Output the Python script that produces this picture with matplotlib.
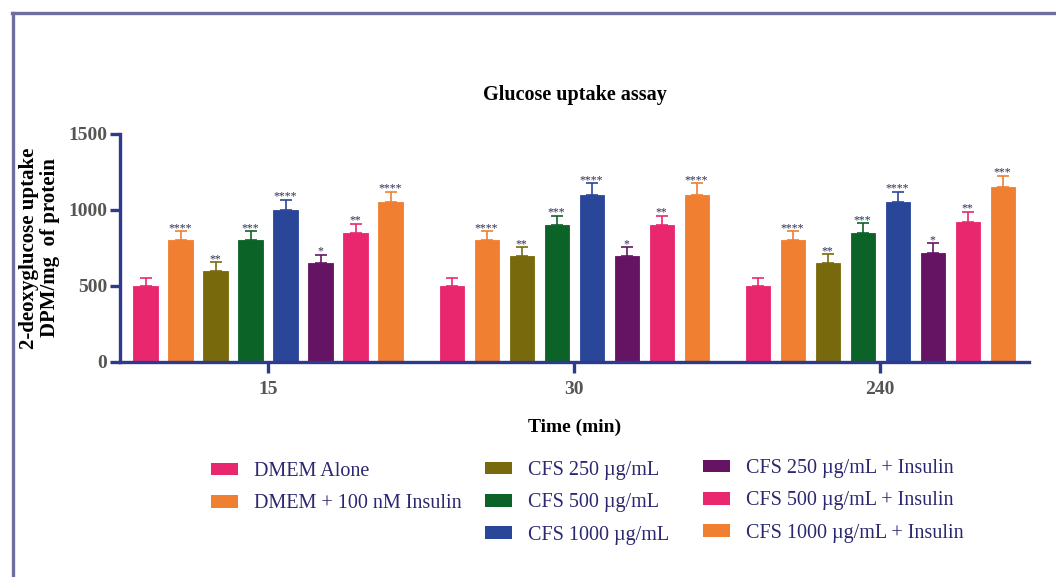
import matplotlib
matplotlib.use('Agg')
import matplotlib.pyplot as plt
import numpy as np
from matplotlib.lines import Line2D
from matplotlib.patches import Patch

plt.rcParams['font.family'] = ['Liberation Serif', 'DejaVu Serif']

# ---------------- data ----------------
times = ['15', '30', '240']
treatments = ['DMEM Alone', 'DMEM + 100 nM Insulin', 'CFS 250 µg/mL', 'CFS 500 µg/mL',
              'CFS 1000 µg/mL', 'CFS 250 µg/mL + Insulin', 'CFS 500 µg/mL + Insulin',
              'CFS 1000 µg/mL + Insulin']
colors = ['#E9276F', '#F07F31', '#786A0C', '#0C6328', '#2A4699', '#651464', '#E9276F', '#F07F31']

means_15 = [500, 800, 600, 800, 1000, 650, 850, 1050]
means_30 = [500, 800, 700, 900, 1100, 700, 900, 1100]
means_240 = [500, 800, 650, 850, 1050, 720, 920, 1150]
sd_15 = [50, 60, 55, 60, 65, 55, 60, 70]
sd_30 = [50, 60, 55, 60, 75, 55, 60, 75]
sd_240 = [50, 60, 58, 62, 70, 60, 68, 75]
stars_15 = ['', '****', '**', '***', '****', '*', '**', '****']
stars_30 = ['', '****', '**', '***', '****', '*', '**', '****']
stars_240 = ['', '****', '**', '***', '****', '*', '**', '***']

means = np.array([means_15, means_30, means_240])
sds = np.array([sd_15, sd_30, sd_240])
stars = [stars_15, stars_30, stars_240]

# ---------------- figure ----------------
W, H = 1056, 577
fig = plt.figure(figsize=(W / 100, H / 100), dpi=100)
ax = fig.add_axes([120 / W, 1 - 362 / H, (1029 - 120) / W, (362 - 134) / H])

navy = '#2E3A8C'
group_step = 8.743
bar_w = 0.686
n = len(treatments)
centers = np.arange(len(times)) * group_step

for i in range(n):
    x = centers + (i - (n - 1) / 2)
    ax.bar(x, means[:, i], width=bar_w, color=colors[i], edgecolor=colors[i],
           linewidth=0.6, zorder=2)
    ax.errorbar(x, means[:, i], yerr=[np.zeros(len(times)), sds[:, i]], fmt='none',
                ecolor=colors[i], elinewidth=1.4, capsize=4.5, capthick=1.4,
                alpha=0.85, zorder=2)
    for g in range(len(times)):
        s = stars[g][i]
        if s:
            ax.text(x[g], means[g, i] + sds[g, i] + 2, s, ha='center', va='baseline',
                    fontsize=8.5, color='#2D2D50', zorder=3)

ax.set_ylim(0, 1500)
ax.set_xlim((120 - 268) / 35, (1029 - 268) / 35)
ax.set_yticks([0, 500, 1000, 1500])
ax.set_xticks(centers)
ax.set_xticklabels(times)
for sp in ['top', 'right']:
    ax.spines[sp].set_visible(False)
for sp in ['left', 'bottom']:
    ax.spines[sp].set_color(navy)
    ax.spines[sp].set_linewidth(2.4)
    ax.spines[sp].set_zorder(4)
ax.tick_params(axis='y', length=7, width=2.4, color=navy, pad=2,
               labelsize=14, labelcolor='#555555')
ax.tick_params(axis='x', length=8, width=2.4, color=navy, pad=6,
               labelsize=14, labelcolor='#555555')
for lab in ax.get_xticklabels() + ax.get_yticklabels():
    lab.set_fontweight('bold')

# titles / labels
fig.text(574.5 / W, 1 - 95 / H, 'Glucose uptake assay', ha='center', va='center',
         fontsize=14.5, fontweight='bold')
fig.text(574.5 / W, 1 - 427 / H, 'Time (min)', ha='center', va='center',
         fontsize=14, fontweight='bold')
fig.text(34 / W, 1 - 248 / H, '2-deoxyglucose uptake', rotation=90, rotation_mode='anchor',
         ha='center', va='baseline', fontsize=15, fontweight='bold')
fig.text(55 / W, 1 - 248 / H, 'DPM/mg  of protein', rotation=90, rotation_mode='anchor',
         ha='center', va='baseline', fontsize=15, fontweight='bold')

# legends
legend_cols = [([0, 1], 211, 462), ([2, 3, 4], 485, 461), ([5, 6, 7], 703, 459)]
for idxs, xl, yt in legend_cols:
    handles = [Patch(facecolor=colors[k], edgecolor='none') for k in idxs]
    leg = fig.legend(handles, [treatments[k] for k in idxs], loc='upper left',
                     bbox_to_anchor=(xl / W, 1 - yt / H), frameon=False,
                     borderpad=0, borderaxespad=0, fontsize=14.5,
                     handlelength=1.34, handleheight=0.6, handletextpad=0.8,
                     labelspacing=0.66, labelcolor='#2A2870')

# outer frame (top and left border)
frame_c = '#6F6F9F'
fig.add_artist(Line2D([12 / W, 1], [1 - 13 / H, 1 - 13 / H], color=frame_c, lw=2.4,
                      transform=fig.transFigure))
fig.add_artist(Line2D([13 / W, 13 / W], [0, 1 - 13 / H], color=frame_c, lw=2.4,
                      transform=fig.transFigure))

fig.savefig('out.png', dpi=100)
